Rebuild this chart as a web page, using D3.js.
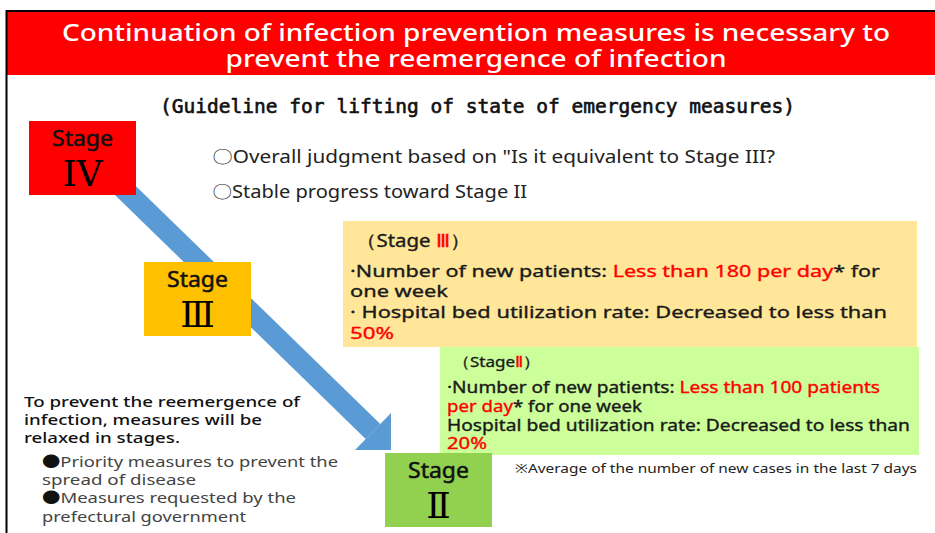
<!DOCTYPE html>
<html>
<head>
<meta charset="utf-8">
<script src="https://cdn.jsdelivr.net/npm/d3@7"></script>
<style>
  body { margin: 0; background: #fff; }
  svg { display: block; }
</style>
</head>
<body>
<div id="chart"></div>
<script>
// ---- content ----
const titleLines = [
    "Continuation of infection prevention measures is necessary to",
    "prevent the reemergence of infection"
];
const subtitle = "(Guideline for lifting of state of emergency measures)";
const criteria = [
    "〇Overall judgment based on \"Is it equivalent to Stage III?",
    "〇Stable progress toward Stage II"
];
const stageLabels = ["Stage", "Stage", "Stage"];
const stageNumerals = ["IV", "Ⅲ", "Ⅱ"];

// segments: [text, highlighted]
const stage3Heading = [["（Stage ", false], ["Ⅲ", true], ["）", false]];
const stage3Lines = [
    [["·Number of new patients: ", false], ["Less than 180 per day", true], ["* for", false]],
    [["one week", false]],
    [["· Hospital bed utilization rate: Decreased to less than", false]],
    [["50%", true]]
];
const stage2Heading = [["（Stage", false], ["Ⅱ", true], ["）", false]];
const stage2Lines = [
    [["·Number of new patients: ", false], ["Less than 100 patients", true]],
    [["per day", true], ["* for one week", false]],
    [["Hospital bed utilization rate: Decreased to less than", false]],
    [["20%", true]]
];
const footnote = "※Average of the number of new cases in the last 7 days";
const leftIntro = [
    "To prevent the reemergence of",
    "infection, measures will be",
    "relaxed in stages."
];
// [bullet, text]
const leftBullets = [
    ["●", "Priority measures to prevent the"],
    ["", "spread of disease"],
    ["●", "Measures requested by the"],
    ["", "prefectural government"]
];

// ---- drawing ----
const width = 935, height = 533;
const sans = "'Noto Sans', 'Open Sans', sans-serif";
const cjk = "'Noto Sans CJK JP', 'Noto Sans', sans-serif";

const svg = d3.select("#chart").append("svg")
    .attr("width", width)
    .attr("height", height)
    .style("font-family", sans);

svg.append("rect").attr("width", width).attr("height", height).attr("fill", "#fff");

// banner + frame
svg.append("rect")
    .attr("x", 7).attr("y", 12)
    .attr("width", width - 7).attr("height", 63)
    .attr("fill", "#ff0000");
svg.append("path")
    .attr("d", d3.line()([[6.5, height], [6.5, 11], [width, 11]]))
    .attr("fill", "none")
    .attr("stroke", "#000")
    .attr("stroke-width", 2);

const titleY = [41, 67];
const titleW = [828, 501];
svg.selectAll("text.title")
    .data(titleLines)
    .join("text")
    .attr("class", "title")
    .attr("x", 476)
    .attr("y", (d, i) => titleY[i])
    .attr("text-anchor", "middle")
    .attr("textLength", (d, i) => titleW[i])
    .attr("lengthAdjust", "spacingAndGlyphs")
    .attr("font-size", 23)
    .attr("font-weight", 500)
    .attr("fill", "#fff")
    .text(d => d);

svg.append("text")
    .attr("x", 160).attr("y", 113)
    .attr("textLength", 635)
    .attr("lengthAdjust", "spacingAndGlyphs")
    .attr("font-family", "'DejaVu Sans Mono', 'Liberation Mono', monospace")
    .attr("font-size", 19)
    .attr("fill", "#111")
    .attr("stroke", "#111")
    .attr("stroke-width", 0.6)
    .text(subtitle);

const critY = [163, 198];
const critW = [563, 315];
svg.selectAll("text.crit")
    .data(criteria)
    .join("text")
    .attr("class", "crit")
    .attr("x", 212)
    .attr("y", (d, i) => critY[i])
    .attr("textLength", (d, i) => critW[i])
    .attr("lengthAdjust", "spacingAndGlyphs")
    .attr("font-size", 18)
    .attr("fill", "#222")
    .text(d => d);

// arrow along the stage path
const arrowDir = [243, 236.5];
const len = Math.hypot(...arrowDir);
const ux = arrowDir[0] / len, uy = arrowDir[1] / len;
const base = [373, 431.5];
const start = [base[0] - ux * 380, base[1] - uy * 380];
svg.append("path")
    .attr("d", d3.line()([start, base]))
    .attr("stroke", "#5b9bd5")
    .attr("stroke-width", 21)
    .attr("fill", "none");
svg.append("path")
    .attr("d", d3.line()([[391, 413], [391, 450], [355, 450]]) + "Z")
    .attr("fill", "#5b9bd5");

// info boxes
function drawInfo(box, heading, lines, opt) {
    svg.append("rect")
        .attr("x", box[0]).attr("y", box[1])
        .attr("width", box[2] - box[0]).attr("height", box[3] - box[1])
        .attr("fill", opt.fill);
    const all = [heading].concat(lines);
    svg.append("g").selectAll("text")
        .data(all)
        .join("text")
        .attr("x", (d, i) => opt.x[i])
        .attr("y", (d, i) => opt.y[i])
        .attr("textLength", (d, i) => opt.w[i])
        .attr("lengthAdjust", "spacingAndGlyphs")
        .attr("font-size", (d, i) => i === 0 ? opt.headSize : opt.size)
        .attr("stroke-width", 0.35)
        .selectAll("tspan")
        .data(d => d)
        .join("tspan")
        .attr("fill", d => d[1] ? "#ff0000" : "#1a1a1a")
        .attr("stroke", d => d[1] ? "#ff0000" : "#1a1a1a")
        .text(d => d[0]);
}

drawInfo([343, 221, 917, 347], stage3Heading, stage3Lines, {
    fill: "#ffe699",
    x: [356, 350, 350, 350, 350],
    y: [247, 277, 297, 318, 339],
    w: [114, 530, 98, 537, 44],
    size: 17, headSize: 18
});
drawInfo([440, 347, 919, 455], stage2Heading, stage2Lines, {
    fill: "#ccff99",
    x: [453, 447, 447, 447, 447],
    y: [367, 393, 412, 431, 449],
    w: [87, 433, 195, 463, 40],
    size: 15.5, headSize: 15
});

svg.append("text")
    .attr("x", 515).attr("y", 473)
    .attr("textLength", 402)
    .attr("lengthAdjust", "spacingAndGlyphs")
    .attr("font-size", 13)
    .attr("fill", "#222")
    .text(footnote);

// stage boxes
const stageBoxes = [
    { fill: "#ff0000", x: 29, y: 121 },
    { fill: "#ffc000", x: 144, y: 262 },
    { fill: "#92d050", x: 385, y: 453 }
];
const boxW = 107, boxH = 74;
const stages = svg.selectAll("g.stage")
    .data(stageLabels.map((s, i) => ({ label: s, num: stageNumerals[i], box: stageBoxes[i] })))
    .join("g")
    .attr("class", "stage")
    .attr("transform", d => `translate(${d.box.x},${d.box.y})`);
stages.append("rect")
    .attr("width", boxW).attr("height", boxH)
    .attr("fill", d => d.box.fill);
stages.append("text")
    .attr("x", boxW / 2).attr("y", 25)
    .attr("text-anchor", "middle")
    .attr("textLength", 61)
    .attr("lengthAdjust", "spacingAndGlyphs")
    .attr("font-size", 21)
    .attr("fill", "#111")
    .attr("stroke", "#111")
    .attr("stroke-width", 0.5)
    .text(d => d.label);
stages.append("text")
    .attr("x", boxW / 2).attr("y", 65)
    .attr("text-anchor", "middle")
    .attr("font-family", "'DejaVu Serif', 'Liberation Serif', serif")
    .attr("font-size", 36)
    .attr("fill", "#000")
    .text(d => d.num);

// left notes
svg.selectAll("text.intro")
    .data(leftIntro)
    .join("text")
    .attr("class", "intro")
    .attr("x", 24)
    .attr("y", (d, i) => 407 + i * 18)
    .attr("textLength", (d, i) => [276, 238, 156][i])
    .attr("lengthAdjust", "spacingAndGlyphs")
    .attr("font-size", 15)
    .attr("font-weight", 500)
    .attr("fill", "#111")
    .text(d => d);
const bullets = svg.selectAll("text.bullet")
    .data(leftBullets)
    .join("text")
    .attr("class", "bullet")
    .attr("x", 42)
    .attr("y", (d, i) => [467, 485, 503, 522][i])
    .attr("textLength", (d, i) => [296, 154, 254, 204][i])
    .attr("lengthAdjust", "spacingAndGlyphs")
    .attr("font-size", 15)
    .attr("fill", "#444");
bullets.append("tspan")
    .attr("font-family", cjk)
    .attr("fill", "#111")
    .text(d => d[0]);
bullets.append("tspan")
    .text(d => d[1]);
</script>
</body>
</html>
